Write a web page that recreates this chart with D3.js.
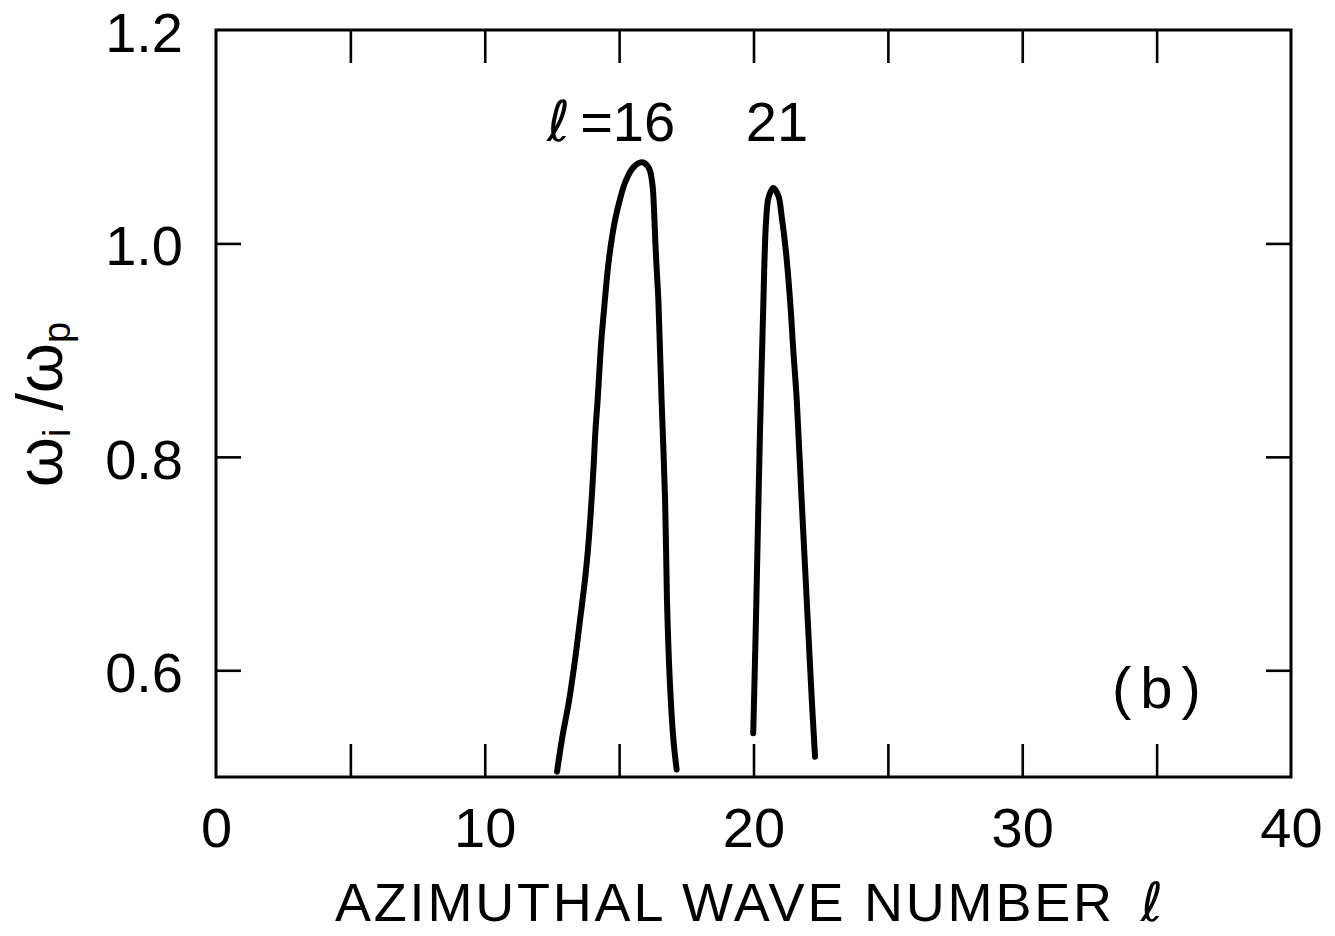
<!DOCTYPE html>
<html>
<head>
<meta charset="utf-8">
<script src="https://cdn.jsdelivr.net/npm/d3@7"></script>
<style>
  body { margin: 0; background: #fff; }
  text { font-family: "Liberation Sans", Arial, sans-serif; fill: #000; }
</style>
</head>
<body>
<div id="chart"></div>
<script>
// growth rate curves
var band16L = [12.69, 12.87, 13.14, 13.36, 13.56, 13.73, 13.84, 13.95, 14.05, 14.12, 14.20, 14.29, 14.36, 14.47, 14.62, 14.85, 15.07, 15.22, 15.52, 15.85, 16.10, 16.24, 16.30, 16.35, 16.40, 16.46, 16.58, 16.71, 16.78, 16.89, 17.02, 17.14];
var band16W = [0.505, 0.535, 0.572, 0.610, 0.650, 0.685, 0.713, 0.750, 0.791, 0.825, 0.853, 0.891, 0.916, 0.947, 0.985, 1.022, 1.045, 1.057, 1.071, 1.076, 1.071, 1.055, 1.030, 1.000, 0.975, 0.947, 0.853, 0.760, 0.666, 0.588, 0.535, 0.507];
var band21L = [19.99, 20.08, 20.16, 20.24, 20.37, 20.41, 20.47, 20.56, 20.73, 20.92, 21.05, 21.20, 21.36, 21.48, 21.61, 21.79, 21.98, 22.17, 22.29];
var band21W = [0.541, 0.635, 0.729, 0.822, 0.947, 0.985, 1.022, 1.043, 1.052, 1.045, 1.025, 0.994, 0.947, 0.900, 0.853, 0.760, 0.666, 0.572, 0.519];

// ticks and labels
var xLabels = [0, 10, 20, 30, 40];
var xTicks = [5, 10, 15, 20, 25, 30, 35];
var yLabels = [0.6, 0.8, 1.0, 1.2];
var yTicks = [0.6, 0.8, 1.0];

// set the dimensions and margins of the graph
var margin = {top: 30, right: 44, bottom: 159, left: 216},
    width = 1335 - margin.left - margin.right,
    height = 936 - margin.top - margin.bottom;

var svg = d3.select("#chart")
  .append("svg")
    .attr("width", 1335)
    .attr("height", 936)
  .append("g")
    .attr("transform", "translate(" + margin.left + "," + margin.top + ")");

var x = d3.scaleLinear().domain([0, 40]).range([0, width]);
var y = d3.scaleLinear().domain([0.5, 1.2]).range([height, 0]);

// inner ticks on all four sides
svg.append("g")
  .attr("transform", "translate(0," + height + ")")
  .call(d3.axisBottom(x).tickValues(xTicks).tickSize(-33).tickFormat(""));
svg.append("g")
  .call(d3.axisTop(x).tickValues(xTicks).tickSize(-33).tickFormat(""));
svg.append("g")
  .call(d3.axisLeft(y).tickValues(yTicks).tickSize(-25).tickFormat(""));
svg.append("g")
  .attr("transform", "translate(" + width + ",0)")
  .call(d3.axisRight(y).tickValues(yTicks).tickSize(-25).tickFormat(""));

// tick labels
svg.append("g")
  .attr("class", "xlab")
  .attr("transform", "translate(0," + height + ")")
  .call(d3.axisBottom(x).tickValues(xLabels).tickSize(0).tickPadding(30).tickFormat(d3.format("d")));
svg.append("g")
  .attr("class", "ylab")
  .call(d3.axisLeft(y).tickValues(yLabels).tickSize(0).tickPadding(33).tickFormat(d3.format(".1f")));

svg.selectAll(".domain").remove();
svg.selectAll(".tick line").attr("stroke", "#000").attr("stroke-width", 2.6);
svg.selectAll(".xlab text, .ylab text")
  .style("font-family", "'Liberation Sans', Arial, sans-serif")
  .style("font-size", "56px");
svg.selectAll(".ylab text").attr("dy", "0.38em");

// frame
svg.append("rect")
  .attr("x", 0)
  .attr("y", 0)
  .attr("width", width)
  .attr("height", height)
  .attr("fill", "none")
  .attr("stroke", "#000")
  .attr("stroke-width", 3);

// curves
var line = d3.line()
  .x(function(d) { return x(d[0]); })
  .y(function(d) { return y(d[1]); })
  .curve(d3.curveCatmullRom.alpha(0.5));

[[band16L, band16W], [band21L, band21W]].forEach(function(b) {
  svg.append("path")
    .datum(d3.zip(b[0], b[1]))
    .attr("fill", "none")
    .attr("stroke", "#000")
    .attr("stroke-width", 6)
    .attr("stroke-linecap", "round")
    .attr("stroke-linejoin", "round")
    .attr("d", line);
});

// curve labels
var lab16 = svg.append("text")
  .attr("x", 547 - margin.left)
  .attr("y", 141 - margin.top)
  .style("font-size", "56px");
lab16.append("tspan").style("font-family", "'DejaVu Sans'").style("font-style", "italic").text("ℓ");
lab16.append("tspan").attr("dx", 10).text("=16");

svg.append("text")
  .attr("x", 777 - margin.left)
  .attr("y", 141 - margin.top)
  .attr("text-anchor", "middle")
  .style("font-size", "56px")
  .text("21");

svg.append("text")
  .attr("x", 1112 - margin.left)
  .attr("y", 708 - margin.top)
  .style("font-size", "58px")
  .style("letter-spacing", "9px")
  .text("(b)");

// X axis label
var xt = svg.append("text")
  .attr("x", 335 - margin.left)
  .attr("y", 921 - margin.top)
  .style("font-size", "54px")
  .style("letter-spacing", "2.8px");
xt.append("tspan").text("AZIMUTHAL WAVE NUMBER ");
xt.append("tspan").attr("dx", 8).style("font-family", "'DejaVu Sans'").style("font-style", "italic").text("ℓ");

// Y axis label
var yt = svg.append("text")
  .attr("transform", "translate(" + (62 - margin.left) + "," + (487 - margin.top) + ") rotate(-90)")
  .style("font-size", "64px");
yt.append("tspan").text("ω");
yt.append("tspan").attr("dy", 8).style("font-size", "38px").text("i");
yt.append("tspan").attr("dy", -8).text(" /");
yt.append("tspan").text("ω");
yt.append("tspan").attr("dy", 8).style("font-size", "38px").text("p");
</script>
</body>
</html>
